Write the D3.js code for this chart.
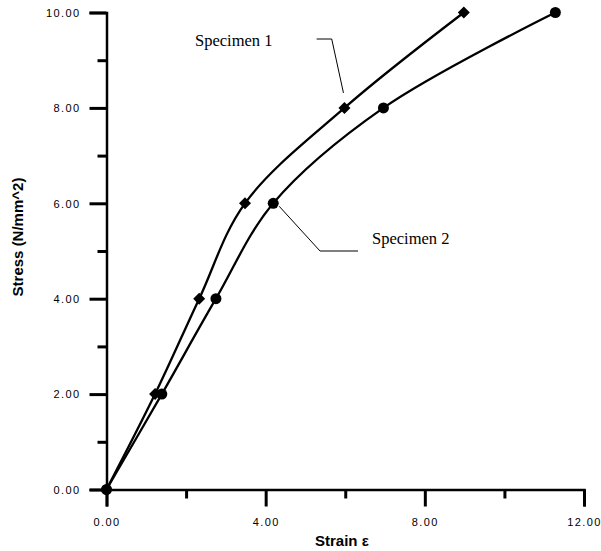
<!DOCTYPE html>
<html><head><meta charset="utf-8">
<script src="https://cdn.jsdelivr.net/npm/d3@7"></script>
<style>
body{margin:0;background:#fff;}
svg{display:block;}
.tick text{font-family:Arial, "Liberation Sans", sans-serif;font-size:11px;letter-spacing:1.4px;fill:#000;}
</style></head>
<body>
<svg id="c" width="601" height="551"></svg>
<script>
const spec1Strain = [0, 1.22, 2.33, 3.48, 5.98, 8.98];
const spec1Stress = [0, 2, 4, 6, 8, 10];
const spec2Strain = [0, 1.39, 2.75, 4.19, 6.96, 11.28];
const spec2Stress = [0, 2, 4, 6, 8, 10];
const xTicks = [0, 4, 8, 12];
const yTicks = [0, 2, 4, 6, 8, 10];
const xMinor = [2, 6, 10];
const yMinor = [1, 3, 5, 7, 9];
const seriesNames = ["Specimen 1", "Specimen 2"];

const svg = d3.select("#c");
const x = d3.scaleLinear().domain([0, 12]).range([106.5, 584]);
const y = d3.scaleLinear().domain([0, 10]).range([489.5, 12.5]);
const fmt = d3.format(".2f");

// x axis
const gx = svg.append("g").attr("transform", `translate(0,${y(0)})`)
  .call(d3.axisBottom(x).tickValues(xTicks).tickFormat(fmt).tickSize(17).tickPadding(10));
gx.append("g").call(d3.axisBottom(x).tickValues(xMinor).tickFormat("").tickSize(9));
// y axis
const gy = svg.append("g").attr("transform", `translate(${x(0)},0)`)
  .call(d3.axisLeft(y).tickValues(yTicks).tickFormat(fmt).tickSize(17).tickPadding(9));
gy.append("g").call(d3.axisLeft(y).tickValues(yMinor).tickFormat("").tickSize(9));
gy.selectAll("g > g > .domain").remove();
gx.selectAll("g > g > .domain").remove();
svg.selectAll(".domain").attr("stroke", "#000").attr("stroke-width", 2.5);
svg.selectAll(".tick line").attr("stroke", "#000").attr("stroke-width", 3);
gx.selectAll(".tick text").attr("dy", "0.9em");
gy.selectAll(".tick text").attr("dy", "0.35em");

// axis titles
svg.append("text").attr("x", 315).attr("y", 546)
  .attr("font-family", "Arial, 'Liberation Sans', sans-serif").attr("font-weight", "bold").attr("font-size", 15)
  .text("Strain ε");
svg.append("text").attr("transform", "translate(23,237) rotate(-90)").attr("text-anchor", "middle")
  .attr("font-family", "Arial, 'Liberation Sans', sans-serif").attr("font-weight", "bold").attr("font-size", 15)
  .text("Stress (N/mm^2)");

const line = d3.line().curve(d3.curveCatmullRom.alpha(0.5)).x(d => x(d[0])).y(d => y(d[1]));
const s1 = spec1Strain.map((v, i) => [v, spec1Stress[i]]);
const s2 = spec2Strain.map((v, i) => [v, spec2Stress[i]]);

svg.append("path").datum(s1).attr("d", line).attr("fill", "none").attr("stroke", "#000").attr("stroke-width", 2.3);
svg.append("path").datum(s2).attr("d", line).attr("fill", "none").attr("stroke", "#000").attr("stroke-width", 2.3);

svg.selectAll(".d1").data(s1).join("path")
  .attr("transform", d => `translate(${x(d[0])},${y(d[1])}) rotate(45)`)
  .attr("d", d3.symbol().type(d3.symbolSquare).size(72)).attr("fill", "#000");
svg.selectAll(".c2").data(s2).join("circle")
  .attr("cx", d => x(d[0])).attr("cy", d => y(d[1])).attr("r", 5.5).attr("fill", "#000");

// annotations
const serif = "'Liberation Serif', 'Times New Roman', serif";
svg.append("text").attr("x", 195).attr("y", 46).attr("font-family", serif).attr("font-size", 16.5).text(seriesNames[0]);
svg.append("path").attr("d", `M${x(5.28)},39 H${x(5.66)} L${x(5.98)-1},${y(8)-15}`)
  .attr("fill", "none").attr("stroke", "#000").attr("stroke-width", 1);
svg.append("text").attr("x", 372).attr("y", 244).attr("font-family", serif).attr("font-size", 16.5).text(seriesNames[1]);
svg.append("path").attr("d", `M${x(4.19)+6},${y(6)+3} L320,251 H358`)
  .attr("fill", "none").attr("stroke", "#000").attr("stroke-width", 1);
</script>
</body></html>
